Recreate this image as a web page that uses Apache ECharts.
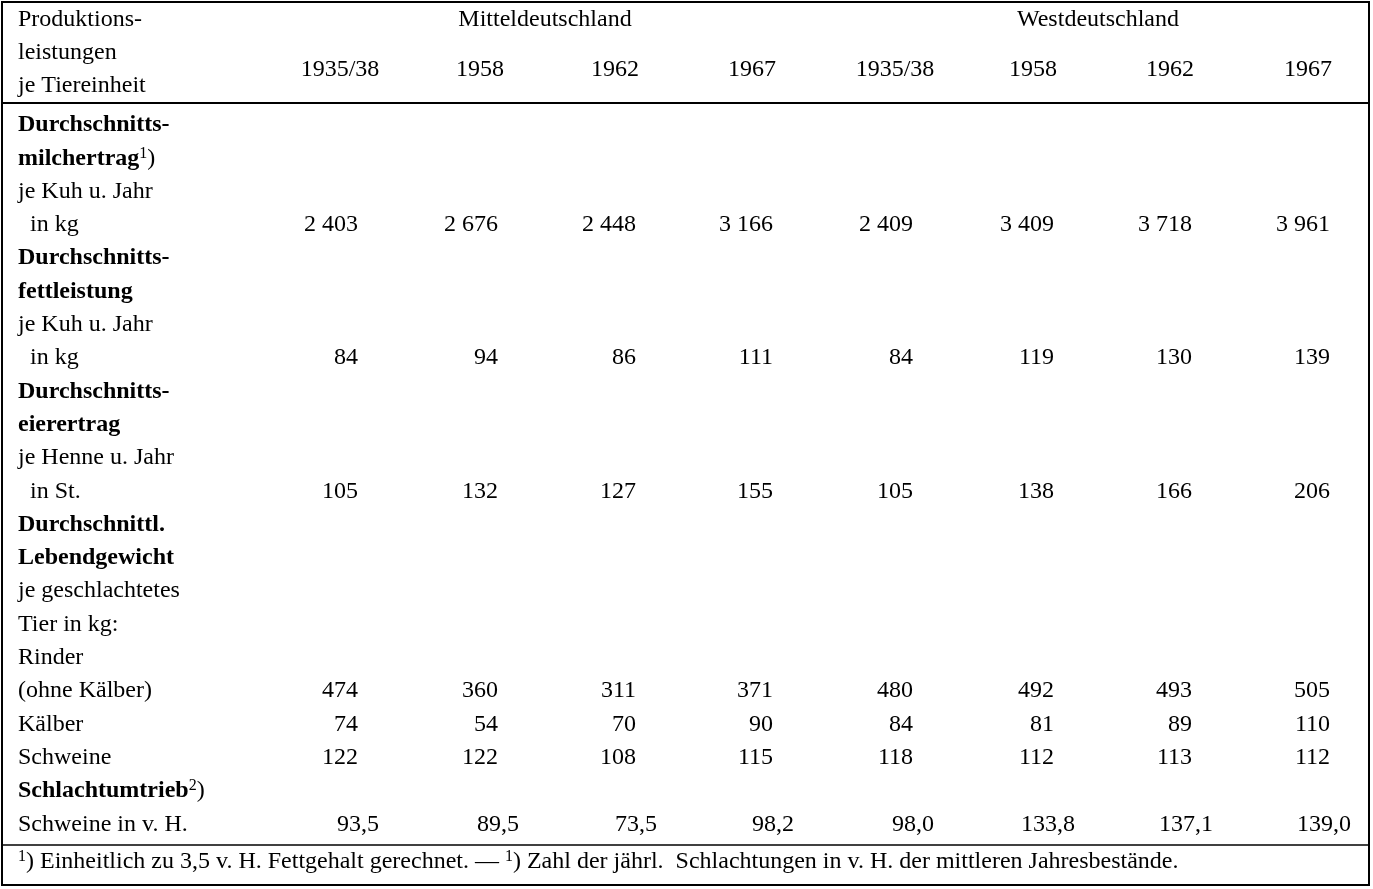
<!DOCTYPE html>
<html><head><meta charset="utf-8">
<script src="https://cdn.jsdelivr.net/npm/echarts@6/dist/echarts.min.js"></script>
<style>html,body{margin:0;padding:0;background:#fff}#main{width:1373px;height:889px}</style>
</head><body><div id="main"></div>
<script>
var chart = echarts.init(document.getElementById('main'));

var regions = ['Mitteldeutschland', 'Westdeutschland'];
var years = ['1935/38', '1958', '1962', '1967', '1935/38', '1958', '1962', '1967'];
var headLabel = ['Produktions-', 'leistungen', 'je Tiereinheit'];

// body rows: [label, style, values or null]
var rows = [
  ['Durchschnitts-', 'b', null],
  ['milchertrag{s|1}{n|)}', 'b', null],
  ['je Kuh u. Jahr', 'n', null],
  ['  in kg', 'n', ['2 403', '2 676', '2 448', '3 166', '2 409', '3 409', '3 718', '3 961']],
  ['Durchschnitts-', 'b', null],
  ['fettleistung', 'b', null],
  ['je Kuh u. Jahr', 'n', null],
  ['  in kg', 'n', ['84', '94', '86', '111', '84', '119', '130', '139']],
  ['Durchschnitts-', 'b', null],
  ['eierertrag', 'b', null],
  ['je Henne u. Jahr', 'n', null],
  ['  in St.', 'n', ['105', '132', '127', '155', '105', '138', '166', '206']],
  ['Durchschnittl.', 'b', null],
  ['Lebendgewicht', 'b', null],
  ['je geschlachtetes', 'n', null],
  ['Tier in kg:', 'n', null],
  ['Rinder', 'n', null],
  ['(ohne Kälber)', 'n', ['474', '360', '311', '371', '480', '492', '493', '505']],
  ['Kälber', 'n', ['74', '54', '70', '90', '84', '81', '89', '110']],
  ['Schweine', 'n', ['122', '122', '108', '115', '118', '112', '113', '112']],
  ['Schlachtumtrieb{s|2}{n|)}', 'b', null],
  ['Schweine in v. H.', 'n', ['93,5', '89,5', '73,5', '98,2', '98,0', '133,8', '137,1', '139,0']]
];
var footnote = '{s|1}) Einheitlich zu 3,5 v. H. Fettgehalt gerechnet. — {s|1}) Zahl der jährl.  Schlachtungen in v. H. der mittleren Jahresbestände.';

var FONT = 'Liberation Serif';
var colRight = [358, 498, 636, 773, 913, 1054, 1192, 1330];
var colCenter = [340, 480, 615, 752, 895, 1033, 1170, 1308];
var regionCenter = [545, 1098];

function txt(x, y, s, align, bold) {
  return {type: 'text', x: x, y: y, style: {
    text: s, fill: '#000', fontFamily: FONT, fontSize: 24,
    fontWeight: bold ? 'bold' : 'normal',
    align: align, verticalAlign: 'middle',
    rich: {
      s: {fontSize: 16, fontFamily: FONT, fontWeight: 'normal', fill: '#000', padding: [0, 0, 10, 0]},
      n: {fontSize: 24, fontFamily: FONT, fontWeight: 'normal', fill: '#000'}
    }
  }};
}

var els = [];
els.push({type: 'rect', shape: {x: 2, y: 2, width: 1367, height: 883}, style: {fill: 'none', stroke: '#000', lineWidth: 2}});
els.push({type: 'line', shape: {x1: 2, y1: 103, x2: 1369, y2: 103}, style: {stroke: '#000', lineWidth: 2}});
els.push({type: 'line', shape: {x1: 2, y1: 845, x2: 1369, y2: 845}, style: {stroke: '#000', lineWidth: 1.5}});

headLabel.forEach(function (s, i) { els.push(txt(18, 20 + i * 33, s, 'left')); });
regions.forEach(function (s, i) { els.push(txt(regionCenter[i], 20, s, 'center')); });
years.forEach(function (s, i) { els.push(txt(colCenter[i], 70, s, 'center')); });

rows.forEach(function (r, i) {
  var y = 125 + i * 33.3;
  var label = r[0];
  var x = 18;
  if (label.indexOf('  ') === 0) { x = 30; label = label.trim(); }
  els.push(txt(x, y, label, 'left', r[1] === 'b'));
  if (r[2]) {
    var dec = label.indexOf('v. H.') >= 0;
    r[2].forEach(function (v, j) {
      els.push(txt(colRight[j] + (dec ? 21 : 0), y, v, 'right'));
    });
  }
});
els.push(txt(18, 862, footnote, 'left'));

chart.setOption({animation: false, graphic: {elements: els}});
</script></body></html>
